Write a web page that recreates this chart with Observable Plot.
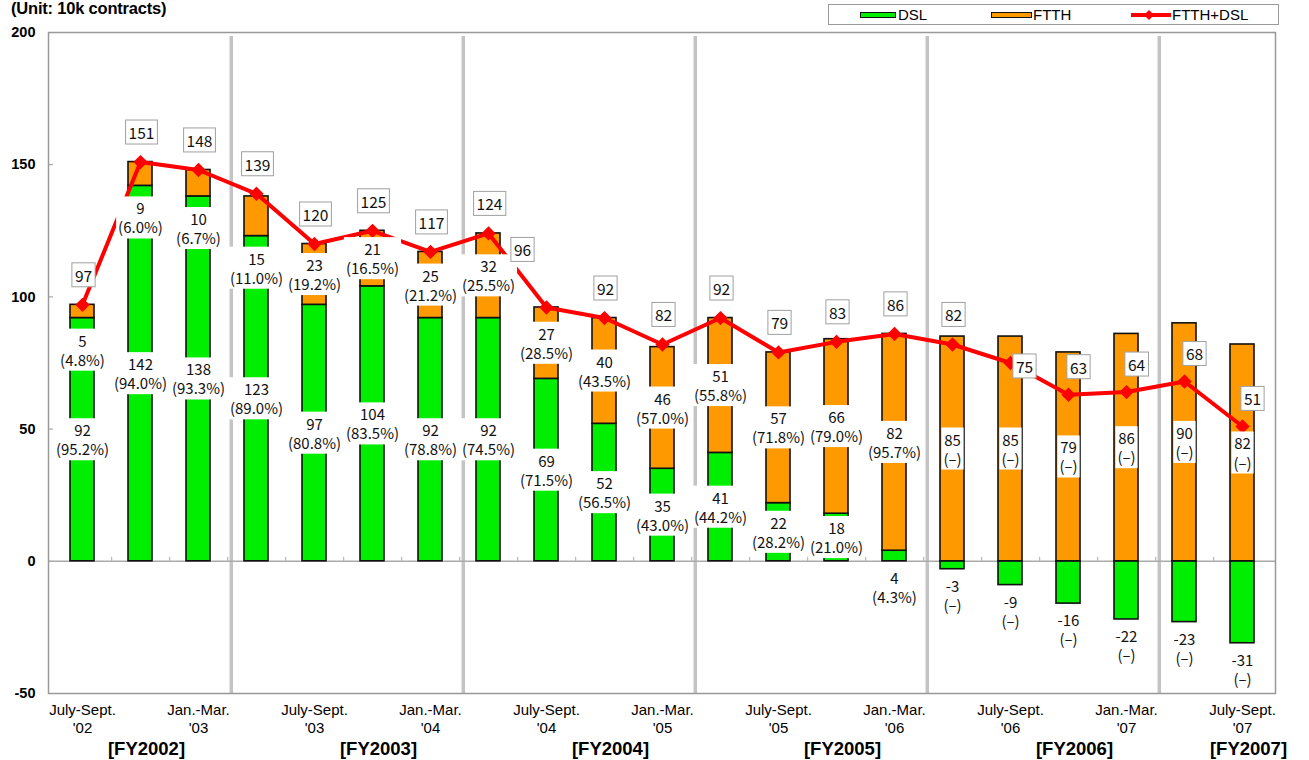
<!DOCTYPE html>
<html>
<head>
<meta charset="utf-8">
<script src="https://cdn.jsdelivr.net/npm/d3@7"></script>
<script src="https://cdn.jsdelivr.net/npm/@observablehq/plot@0.6"></script>
<style>
  body { margin: 0; background: #fff; font-family: Arial, "Liberation Sans", sans-serif; }
  #wrap { position: relative; width: 1309px; height: 760px; overflow: hidden; }
  #wrap svg { position: absolute; left: 0; top: 0; }
  #unit { position: absolute; left: 11px; top: -1px; font-weight: bold; font-size: 16.5px; letter-spacing: -0.2px; color: #000; z-index: 2; }
  #legend { position: absolute; left: 828px; top: 4px; width: 449px; height: 19px; border: 1px solid #9a9a9a; background: #fff; font-size: 15px; z-index: 2; }
  #legend .sw { position: absolute; top: 7px; height: 4px; border: 1.5px solid #111; }
  #legend .lb { position: absolute; top: 1px; line-height: 17px; }
  #legend svg { position: absolute; left: 300px; top: 2px; }
  g[aria-label="y-axis tick label"] text { font-weight: bold; font-size: 14.5px; }
  g[aria-label="x-axis tick label"] text { font-size: 15px; font-weight: normal; }
</style>
</head>
<body>
<div id="wrap">
  <div id="unit">(Unit: 10k contracts)</div>
  <div id="legend"></div>
</div>
<script>
// ---------- data ----------
const quarters = ["Jul-Sep '02","Oct-Dec '02","Jan-Mar '03","Apr-Jun '03","Jul-Sep '03","Oct-Dec '03","Jan-Mar '04",
  "Apr-Jun '04","Jul-Sep '04","Oct-Dec '04","Jan-Mar '05","Apr-Jun '05","Jul-Sep '05","Oct-Dec '05","Jan-Mar '06",
  "Apr-Jun '06","Jul-Sep '06","Oct-Dec '06","Jan-Mar '07","Apr-Jun '07","Jul-Sep '07"];
const dsl   = [92,142,138,123,97,104,92,92,69,52,35,41,22,18,4,-3,-9,-16,-22,-23,-31];
const ftth  = [5,9,10,15,23,21,25,32,27,40,46,51,57,66,82,85,85,79,86,90,82];
const total = [97,151,148,139,120,125,117,124,96,92,82,92,79,83,86,82,75,63,64,68,51];
const dslShare  = ["95.2%","94.0%","93.3%","89.0%","80.8%","83.5%","78.8%","74.5%","71.5%","56.5%","43.0%","44.2%","28.2%","21.0%","4.3%",null,null,null,null,null,null];
const ftthShare = ["4.8%","6.0%","6.7%","11.0%","19.2%","16.5%","21.2%","25.5%","28.5%","43.5%","57.0%","55.8%","71.8%","79.0%","95.7%",null,null,null,null,null,null];
const tickQuarters = ["Jul-Sep '02","Jan-Mar '03","Jul-Sep '03","Jan-Mar '04","Jul-Sep '04","Jan-Mar '05","Jul-Sep '05","Jan-Mar '06","Jul-Sep '06","Jan-Mar '07","Jul-Sep '07"];
const tickLabels = ["July-Sept.\n'02","Jan.-Mar.\n'03","July-Sept.\n'03","Jan.-Mar.\n'04","July-Sept.\n'04","Jan.-Mar.\n'05","July-Sept.\n'05","Jan.-Mar.\n'06","July-Sept.\n'06","Jan.-Mar.\n'07","July-Sept.\n'07"];
const fiscalYears = ["[FY2002]","[FY2003]","[FY2004]","[FY2005]","[FY2006]","[FY2007]"];
const fiscalYearLabelAt = ["Oct-Dec '02","Oct-Dec '03","Oct-Dec '04","Oct-Dec '05","Oct-Dec '06","Jul-Sep '07"];
const fiscalYearStarts = ["Apr-Jun '03","Apr-Jun '04","Apr-Jun '05","Apr-Jun '06","Apr-Jun '07"];
const yTicks = [-50,0,50,100,150,200];
const seriesNames = ["DSL","FTTH"];
const lineName = "FTTH+DSL";

// ---------- derived tables ----------
const barRows = quarters.flatMap((q,i) => [
  {q, series: "DSL", value: dsl[i]},
  {q, series: "FTTH", value: ftth[i]}
]);
const fmt = s => s == null ? "(–)" : `(${s})`;
const segLabels = [];
quarters.forEach((q,i) => {
  if (dsl[i] >= 10) segLabels.push({q, y: dsl[i]/2, place: "mid", text: `${dsl[i]}\n${fmt(dslShare[i])}`});
  else segLabels.push({q, y: Math.min(dsl[i],0), place: "below", text: `${dsl[i] < 0 ? "-" + Math.abs(dsl[i]) : dsl[i]}\n${fmt(dslShare[i])}`});
  const base = Math.max(dsl[i],0);
  if (ftth[i] >= 20) segLabels.push({q, y: base + ftth[i]/2, place: "mid", text: `${ftth[i]}\n${fmt(ftthShare[i])}`});
  else segLabels.push({q, y: base, place: "under", text: `${ftth[i]}\n${fmt(ftthShare[i])}`});
});
const totRows = quarters.map((q,i) => ({q, i, total: total[i]}));
const tickLabelOf = new Map(tickQuarters.map((q,i) => [q, tickLabels[i]]));

const W = 1309, H = 760, mL = 48, mR = 34, mT = 32, mB = 67;
const step = (W - mL - mR) / quarters.length;
const labelFont = "'Noto Sans CJK JP', 'Noto Sans', sans-serif";
const segText = (data, dy) => Plot.text(data, {x: "q", y: "y", text: "text", dy, fontSize: 15, lineHeight: 1.27,
  fill: "#111", fontFamily: labelFont, ariaDescription: "seg"});
const totText = (filter, dx, dy) => Plot.text(totRows.filter(filter), {x: "q", y: "total", text: d => String(d.total),
  dx, dy, fontSize: 15.5, fill: "#111", fontFamily: labelFont, ariaDescription: "tot"});

const chart = Plot.plot({
  width: W, height: H,
  marginLeft: mL, marginRight: mR, marginTop: mT, marginBottom: mB,
  style: {fontFamily: "Arial, 'Liberation Sans', sans-serif", background: "transparent", color: "#000"},
  x: {type: "band", domain: quarters, paddingInner: 0.59, paddingOuter: 0.295, axis: null},
  y: {domain: [-50, 200], axis: null},
  color: {domain: seriesNames, range: ["#00ee00", "#ff9900"]},
  marks: [
    Plot.ruleY(yTicks, {stroke: "#999", strokeWidth: 1, insetRight: W - mL - mR - 5}),
    Plot.ruleX(fiscalYearStarts, {x: d => d, dx: -step/2 + 4, stroke: "#c4c4c4", strokeWidth: 3.5, insetTop: 4}),
    Plot.ruleY([0], {stroke: "#aaa", strokeWidth: 1.5}),
    Plot.ruleX(quarters.slice(0, -1), {x: d => d, y1: 0, y2: 0, insetTop: -4, dx: step/2, stroke: "#aaa", strokeWidth: 1}),
    Plot.barY(barRows, {x: "q", y: "value", fill: "series", stroke: "#111", strokeWidth: 1.6}),
    Plot.line(totRows, {x: "q", y: "total", stroke: "#ff0000", strokeWidth: 4}),
    Plot.dot(totRows, {x: "q", y: "total", symbol: "diamond2", r: 5.5, fill: "#ff0000", stroke: "#ff0000"}),
    segText(segLabels.filter(d => d.place === "mid"), 0),
    segText(segLabels.filter(d => d.place === "below"), 26),
    segText(segLabels.filter(d => d.place === "under"), 32),
    totText(d => d.i <= 15 && d.i !== 8, 1, -28),
    totText(d => d.i === 8, -24, -56),
    totText(d => d.i === 16, 14, 5),
    totText(d => d.i >= 17, 10, -26),
    Plot.axisY({ticks: yTicks, tickSize: 0, tickPadding: 13, tickFormat: d => String(d), label: null}),
    Plot.axisX(tickQuarters, {tickSize: 0, tickPadding: 9, tickFormat: d => tickLabelOf.get(d), label: null, lineHeight: 1.18}),
    Plot.text(fiscalYears, {x: (d,i) => fiscalYearLabelAt[i], text: d => d, frameAnchor: "bottom", dy: 61, dx: 6,
      fontSize: 18.5, fontWeight: "bold", fill: "#000"}),
    Plot.frame({stroke: "#999", strokeWidth: 1.5})
  ]
});

const wrap = document.getElementById("wrap");
wrap.insertBefore(chart, wrap.firstChild);

// white boxes behind labels (sized from the rendered text)
function boxes(desc, padX, padY, stroke) {
  chart.querySelectorAll(`g[aria-description="${desc}"]`).forEach(g => {
    g.querySelectorAll(":scope > text").forEach(t => {
      const b = t.getBBox();
      const r = document.createElementNS("http://www.w3.org/2000/svg", "rect");
      r.setAttribute("x", b.x - padX); r.setAttribute("y", b.y - padY);
      r.setAttribute("width", b.width + 2*padX); r.setAttribute("height", b.height + 2*padY);
      r.setAttribute("fill", "#fff");
      if (stroke) { r.setAttribute("stroke", stroke); r.setAttribute("stroke-width", 1); }
      const tr = t.getAttribute("transform"); if (tr) r.setAttribute("transform", tr);
      g.insertBefore(r, t);
    });
  });
}
boxes("seg", 2, 1, null);
boxes("tot", 3, 1, "#a0a0a0");

// legend
const color = {DSL: "#00ee00", FTTH: "#ff9900"};
const lg = document.getElementById("legend");
lg.innerHTML = `
  <div class="sw" style="left:31px;width:34px;background:${color.DSL}"></div>
  <div class="lb" style="left:69px">${seriesNames[0]}</div>
  <div class="sw" style="left:162px;width:39px;background:${color.FTTH}"></div>
  <div class="lb" style="left:204px">${seriesNames[1]}</div>
  <svg width="44" height="16"><line x1="2" y1="8" x2="42" y2="8" stroke="#ff0000" stroke-width="4"/>
    <path d="M20,3 L25,8 L20,13 L15,8 Z" fill="#ff0000"/></svg>
  <div class="lb" style="left:343px">${lineName}</div>`;
</script>
</body>
</html>
